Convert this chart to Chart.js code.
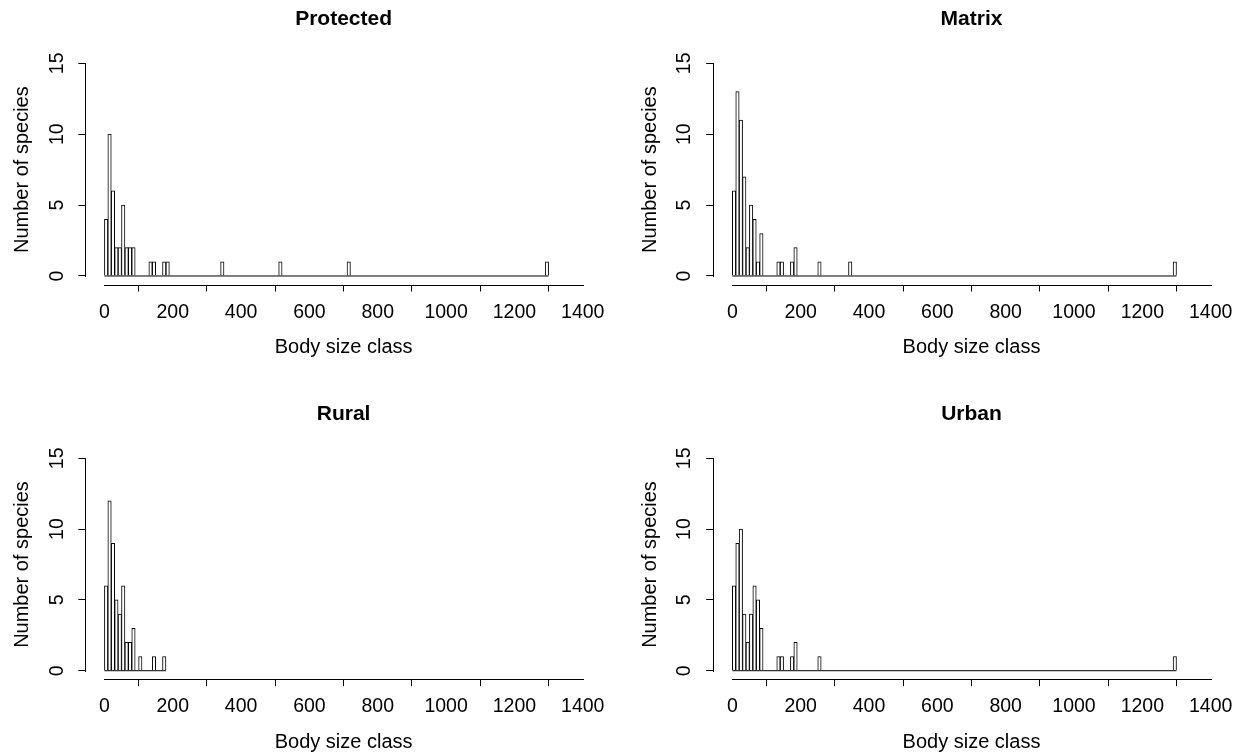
<!DOCTYPE html>
<html><head><meta charset="utf-8">
<script src="https://cdn.jsdelivr.net/npm/chart.js@4.4.1/dist/chart.umd.min.js"></script>
<style>
html,body{margin:0;padding:0;background:#fff;}
#wrap{position:relative;width:1245px;height:754px;background:#fff;}
.panel{position:absolute;}
canvas{display:block;}
</style></head><body><div id="wrap">
<div class="panel" style="left:0px;top:0px"><canvas id="c0" width="622" height="377"></canvas></div>
<div class="panel" style="left:622px;top:0px"><canvas id="c1" width="623" height="377"></canvas></div>
<div class="panel" style="left:0px;top:377px"><canvas id="c2" width="622" height="377"></canvas></div>
<div class="panel" style="left:622px;top:377px"><canvas id="c3" width="623" height="377"></canvas></div>
</div>
<script>
// ---- data (histogram bins of width 10; only non-empty bins listed) ----
const binWidth = 10;
const panelTitles = ["Protected", "Matrix", "Rural", "Urban"];

const protectedBins   = [0, 10, 20, 30, 40, 50, 60, 70, 80, 130, 140, 170, 180, 340, 510, 710, 1290];
const protectedCounts = [4, 10, 6, 2, 2, 5, 2, 2, 2, 1, 1, 1, 1, 1, 1, 1, 1];
const protectedRange  = [0, 1300];

const matrixBins   = [0, 10, 20, 30, 40, 50, 60, 70, 80, 130, 140, 170, 180, 250, 340, 1290];
const matrixCounts = [6, 13, 11, 7, 2, 5, 4, 1, 3, 1, 1, 1, 2, 1, 1, 1];
const matrixRange  = [0, 1300];

const ruralBins   = [0, 10, 20, 30, 40, 50, 60, 70, 80, 100, 140, 170];
const ruralCounts = [6, 12, 9, 5, 4, 6, 2, 2, 3, 1, 1, 1];
const ruralRange  = [0, 180];

const urbanBins   = [0, 10, 20, 30, 40, 50, 60, 70, 80, 130, 140, 170, 180, 250, 1290];
const urbanCounts = [6, 9, 10, 4, 2, 4, 6, 5, 3, 1, 1, 1, 2, 1, 1];
const urbanRange  = [0, 1300];

const xTicks = [0, 200, 400, 600, 800, 1000, 1200, 1400];
const yTicks = [0, 5, 10, 15];
const xLimits = [-56, 1456];
const yLimits = [-0.6, 15.6];

const xLabel = "Body size class";
const yLabel = "Number of species";

// ---- rendering ----
const FONT = "'Liberation Sans', Arial, Helvetica, sans-serif";

const rAxisLines = {
  id: 'rAxisLines',
  afterDraw(chart) {
    const {ctx, chartArea, scales: {x, y}} = chart;
    ctx.save();
    ctx.strokeStyle = '#000';
    ctx.lineWidth = 1;
    ctx.beginPath();
    const yb = Math.round(chartArea.bottom) + 0.5;
    ctx.moveTo(Math.round(x.getPixelForValue(xTicks[0])), yb);
    ctx.lineTo(Math.round(x.getPixelForValue(xTicks[xTicks.length - 1])) + 1, yb);
    const xl = Math.round(chartArea.left) + 0.5;
    ctx.moveTo(xl, Math.round(y.getPixelForValue(yTicks[0])) + 1);
    ctx.lineTo(xl, Math.round(y.getPixelForValue(yTicks[yTicks.length - 1])));
    ctx.stroke();
    ctx.restore();
  }
};

function makePanel(id, title, bins, counts, range, row, col) {
  const padLeft = col === 0 ? 0 : 5.9;
  const padRight = col === 0 ? 20.1 : 15.2;
  const titleTop = row === 0 ? 7 : 25;
  const padBottom = row === 0 ? 18 : 0;
  const xHeight = row === 0 ? 74.5 : 74.8;
  new Chart(document.getElementById(id), {
    data: {
      datasets: [
        {
          type: 'bar',
          data: bins.map((b, i) => ({x: b + binWidth / 2, y: counts[i]})),
          backgroundColor: '#ffffff',
          borderColor: '#000000',
          borderWidth: 1,
          borderSkipped: 'start',
          barPercentage: 1,
          categoryPercentage: 1,
          order: 2
        },
        {
          type: 'line',
          data: range.map(v => ({x: v, y: 0})),
          borderColor: '#000000',
          borderWidth: 1,
          pointRadius: 0,
          fill: false,
          order: 1
        }
      ]
    },
    options: {
      responsive: false,
      animation: false,
      devicePixelRatio: 1,
      layout: {padding: {left: padLeft, right: padRight, top: 0, bottom: padBottom}},
      plugins: {
        legend: {display: false},
        tooltip: {enabled: false},
        title: {
          display: true,
          text: title,
          fullSize: false,
          color: '#000',
          font: {family: FONT, size: 21, weight: 'bold', lineHeight: 1.2},
          padding: {top: titleTop, bottom: 22.6}
        }
      },
      scales: {
        x: {
          type: 'linear',
          min: xLimits[0],
          max: xLimits[1],
          offset: false,
          afterBuildTicks: s => { s.ticks = xTicks.map(v => ({value: v})); },
          afterFit: s => { s.height = xHeight; },
          border: {display: false},
          grid: {display: true, drawOnChartArea: false, drawTicks: true, tickLength: 7, color: '#000', lineWidth: 1},
          ticks: {autoSkip: false, maxRotation: 0, minRotation: 0, padding: 9, color: '#000',
                  callback: v => String(v),
                  font: {family: FONT, size: 19.5}},
          title: {display: true, text: xLabel, color: '#000', padding: {top: 0, bottom: 0},
                  font: {family: FONT, size: 20, lineHeight: 1.2}}
        },
        y: {
          type: 'linear',
          min: yLimits[0],
          max: yLimits[1],
          afterBuildTicks: s => { s.ticks = yTicks.map(v => ({value: v})); },
          afterFit: s => { s.width = 85.3; },
          border: {display: false},
          grid: {display: true, drawOnChartArea: false, drawTicks: true, tickLength: 7, color: '#000', lineWidth: 1},
          ticks: {autoSkip: false, minRotation: 90, maxRotation: 90, crossAlign: 'center', padding: 10.3,
                  callback: v => String(v),
                  color: '#000', font: {family: FONT, size: 19.5}},
          title: {display: true, text: yLabel, color: '#000', padding: {top: 10.5, bottom: 0},
                  font: {family: FONT, size: 20, lineHeight: 1.2}}
        }
      }
    },
    plugins: [rAxisLines]
  });
}

makePanel('c0', panelTitles[0], protectedBins, protectedCounts, protectedRange, 0, 0);
makePanel('c1', panelTitles[1], matrixBins, matrixCounts, matrixRange, 0, 1);
makePanel('c2', panelTitles[2], ruralBins, ruralCounts, ruralRange, 1, 0);
makePanel('c3', panelTitles[3], urbanBins, urbanCounts, urbanRange, 1, 1);
</script>
</body></html>
